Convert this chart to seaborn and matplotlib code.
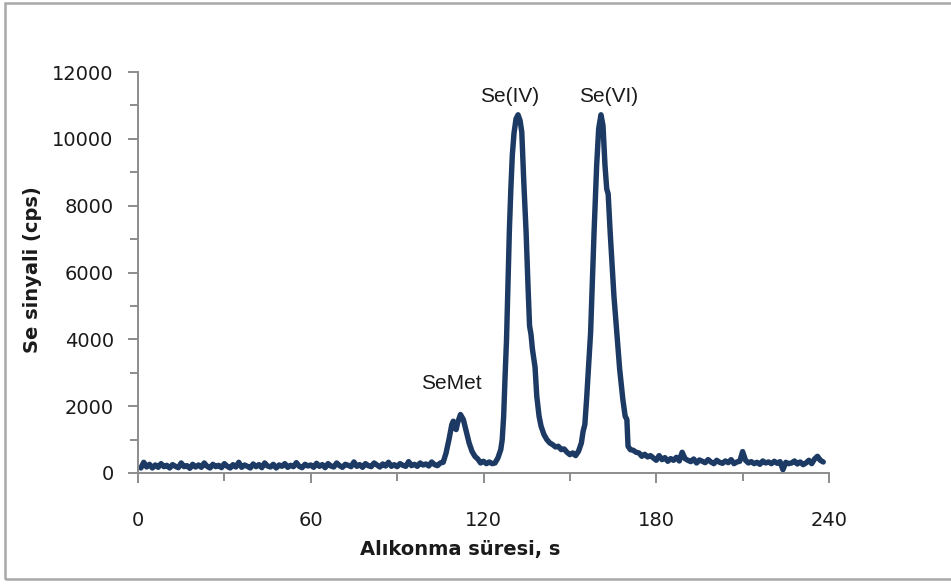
import numpy as np
import pandas as pd
import matplotlib
matplotlib.use("Agg")
import matplotlib.pyplot as plt
from matplotlib.ticker import MultipleLocator
from matplotlib.patches import Rectangle
import seaborn as sns

# ---------------- data ----------------
# baseline before the peaks, sampled every second (t = 1 .. 105 s)
base_time = list(range(1, 106))
base_signal = [150, 320, 180, 260, 150, 240, 170, 280, 190, 230,
               150, 250, 200, 160, 300, 190, 220, 140, 260, 180,
               240, 170, 300, 200, 150, 260, 190, 230, 160, 280,
               200, 150, 250, 180, 320, 170, 240, 200, 150, 270,
               190, 250, 160, 300, 210, 180, 260, 150, 240, 200,
               280, 170, 230, 190, 310, 200, 160, 260, 210, 240,
               170, 290, 200, 250, 160, 280, 210, 180, 300, 220,
               170, 260, 230, 190, 330, 200, 250, 170, 280, 220,
               190, 300, 240, 180, 270, 210, 320, 200, 250, 190,
               280, 230, 200, 340, 220, 260, 200, 300, 240, 270,
               210, 330, 250, 220, 300]

peak_time = [106, 107, 108, 109, 109.5, 110, 110.5, 111, 112, 113, 114, 115, 116, 117, 118,
             119, 120, 121, 122, 123, 124, 125, 126, 126.5, 127, 127.5, 128, 128.5, 129, 129.5,
             130, 130.6, 131.3, 132, 132.7, 133.3, 134, 134.8, 135.5, 136, 136.5, 137, 137.9,
             138.5, 139.3, 140, 141, 142, 143, 144, 145, 146, 147, 148, 149, 150, 151, 152, 153,
             154, 154.6, 155.2, 155.8, 156.5, 157.2, 157.8, 158.4, 159.3, 160, 160.8, 161.5,
             162.2, 162.8, 163.3, 164, 164.6, 165.3, 166.3, 167.3, 168.4, 169.2, 169.8, 170.2,
             171, 172, 173, 174, 175, 176, 177, 178]
peak_signal = [320, 600, 1000, 1450, 1550, 1350, 1300, 1500, 1750, 1600, 1250, 900, 650, 500, 420,
               300, 350, 280, 330, 280, 300, 450, 700, 1000, 1700, 2900, 4000, 5700, 7300, 8500,
               9500, 10170, 10600, 10720, 10550, 10200, 8700, 7200, 5500, 4400, 4150, 3700, 3170,
               2300, 1700, 1400, 1150, 1000, 900, 850, 780, 800, 700, 720, 620, 550, 600, 520, 650,
               900, 1250, 1450, 2200, 3200, 4200, 5700, 7200, 9200, 10300, 10720, 10400,
               9200, 8500, 8350, 7200, 6300, 5300, 4200, 3100, 2200, 1700, 1600, 800,
               700, 680, 620, 600, 500, 560, 480, 520]

# tail after the peaks, sampled every second (t = 179 .. 238 s)
tail_time = list(range(179, 239))
tail_signal = [450, 380, 520, 400, 460, 350, 430, 380, 470, 360,
               620, 430, 380, 340, 420, 300, 390, 350, 310, 400,
               330, 280, 380, 320, 290, 360, 310, 400, 280, 330,
               350, 640, 380, 300, 340, 280, 320, 260, 360, 300,
               330, 280, 350, 290, 340, 100, 320, 280, 300, 360,
               270, 330, 250, 300, 380, 280, 420, 500, 380, 330]

peak_labels = ["SeMet", "Se(IV)", "Se(VI)"]
label_time = [108.7, 128.9, 163.3]
label_signal = [2690, 11280, 11280]

x_title = "Alıkonma süresi, s"
y_title = "Se sinyali (cps)"

df = pd.DataFrame({
    "t": base_time + peak_time + tail_time,
    "s": base_signal + peak_signal + tail_signal,
})

# ---------------- plot ----------------
sns.set_style("white")
plt.rcParams["font.family"] = ["DejaVu Sans"]

fig = plt.figure(figsize=(9.51, 5.85), dpi=100)
ax = fig.add_axes([138 / 951, 1 - 473 / 585, (829 - 138) / 951, (473 - 72) / 585])

sns.lineplot(data=df, x="t", y="s", ax=ax, color="#1c3a63", linewidth=3.9,
             sort=False, estimator=None)

ax.set_xlim(0, 240)
ax.set_ylim(0, 12000)
ax.xaxis.set_major_locator(MultipleLocator(60))
ax.xaxis.set_minor_locator(MultipleLocator(30))
ax.yaxis.set_major_locator(MultipleLocator(2000))
ax.yaxis.set_minor_locator(MultipleLocator(1000))

gray = "#8c8c8c"
for side in ["top", "right"]:
    ax.spines[side].set_visible(False)
for side in ["left", "bottom"]:
    ax.spines[side].set_color(gray)
    ax.spines[side].set_linewidth(1.4)

ax.tick_params(axis="both", which="major", direction="out", color=gray, width=1.4,
               length=7.5, labelsize=14, labelcolor="#1a1a1a")
ax.tick_params(axis="both", which="minor", direction="out", color=gray, width=1.4, length=6)
ax.tick_params(axis="x", which="major", pad=20)
ax.tick_params(axis="y", which="major", pad=10)
ax.tick_params(left=True, bottom=True, which="both")

ax.set_xlabel(x_title, fontsize=14, fontweight="bold", color="#1a1a1a")
ax.set_ylabel(y_title, fontsize=14, fontweight="bold", color="#1a1a1a")
ax.xaxis.set_label_coords((460 - 138) / (829 - 138), -(540 - 473) / (473 - 72))
ax.yaxis.set_label_coords(-(138 - 42) / (829 - 138), (473 - 270) / (473 - 72))

for lab, lt, ls in zip(peak_labels, label_time, label_signal):
    ax.text(lt, ls, lab, ha="center", va="center", fontsize=15,
            family=["Liberation Sans", "DejaVu Sans"], color="#1a1a1a")

fig.patches.append(Rectangle((5 / 951, 1 - 579 / 585), 1.0, (579 - 3) / 585,
                             transform=fig.transFigure, fill=False,
                             edgecolor="#a8a8a8", linewidth=1.8))

fig.savefig("out.png", dpi=100)
